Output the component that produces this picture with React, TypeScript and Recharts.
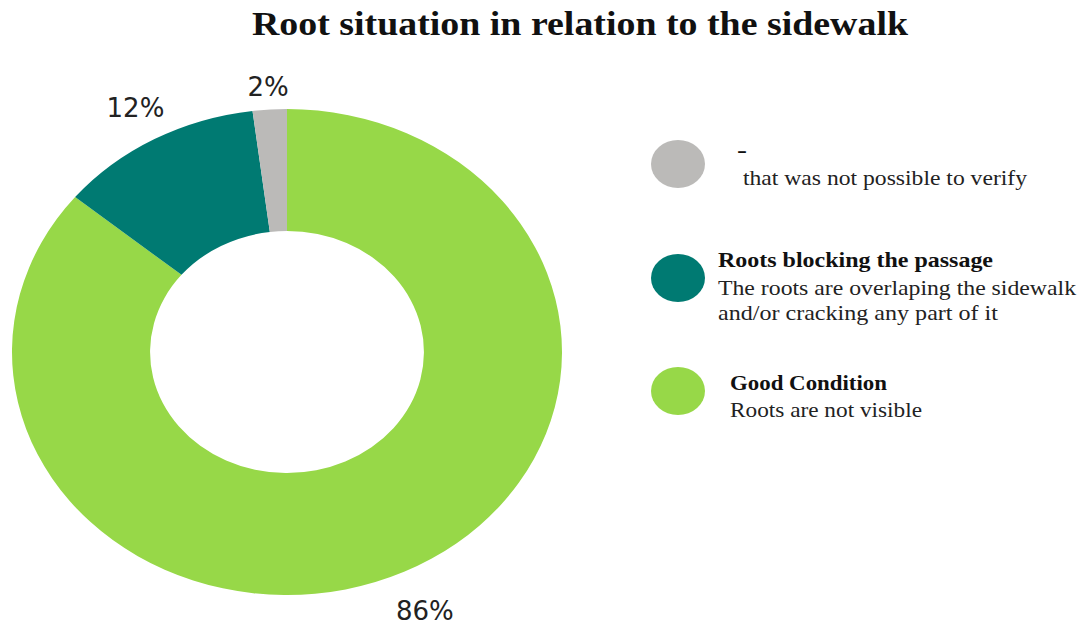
import { PieChart, Pie, Cell } from 'recharts';

// slices, clockwise from 12 o'clock
const categories = ['Good Condition', 'Roots blocking the passage', '-'];
const shares = [86, 12, 2];
const sliceColors = ['#97D848', '#007A72', '#BBBAB8'];
const notes = [
    ['Roots are not visible'],
    ['The roots are overlaping the sidewalk', 'and/or cracking any part of it'],
    ['that was not possible to verify'],
];
const title = 'Root situation in relation to the sidewalk';

const data = categories.map((name, i) => ({ name, value: shares[i] }));

// the original donut is an ellipse, so the circle gets stretched sideways
const SX = 275 / 243;
const RADIAN = Math.PI / 180;
const labelGap = [43, 35, 23];

// legend placement (grey first at the top)
const legendLayout = [
    { idx: 2, cy: 164, tx: 737, ty: 157, tw: 10, lines: [{ x: 743, y: 185, w: 284 }] },
    { idx: 1, cy: 278, tx: 718, ty: 267, tw: 275, lines: [{ x: 718, y: 295, w: 358 }, { x: 718, y: 320, w: 280 }] },
    { idx: 0, cy: 391, tx: 730, ty: 390, tw: 157, lines: [{ x: 730, y: 417, w: 192 }] },
];

function renderLabel(props) {
    const { cx, cy, midAngle, outerRadius, index, value } = props;
    const r = outerRadius + labelGap[index];
    const x = cx + r * Math.cos(-midAngle * RADIAN);
    const y = cy + r * Math.sin(-midAngle * RADIAN);
    return (
        <text
            transform={`translate(${x},${y}) scale(${1 / SX},1)`}
            x={0}
            y={0}
            textAnchor="middle"
            dominantBaseline="central"
            fontFamily="DejaVu Sans"
            fontSize={26}
            fill="#222"
        >
            {value + '%'}
        </text>
    );
}

export default function App() {
    return (
        <div style={{ position: 'absolute', left: 0, top: 0, width: 1083, height: 631, background: '#fff', overflow: 'hidden' }}>
            <div style={{ position: 'absolute', left: -13, top: 0, width: 600, height: 631, transform: `scaleX(${SX})`, transformOrigin: '300px 0' }}>
                <PieChart width={600} height={631} margin={{ top: 0, right: 0, bottom: 0, left: 0 }}>
                    <Pie
                        data={data}
                        dataKey="value"
                        cx={300}
                        cy={352}
                        innerRadius={121}
                        outerRadius={243}
                        startAngle={90}
                        endAngle={-270}
                        stroke="none"
                        label={renderLabel}
                        labelLine={false}
                        isAnimationActive={false}
                    >
                        {data.map((d, i) => (
                            <Cell key={d.name} fill={sliceColors[i]} />
                        ))}
                    </Pie>
                </PieChart>
            </div>
            <svg width={1083} height={631} style={{ position: 'absolute', left: 0, top: 0, pointerEvents: 'none' }}>
                <text x={252} y={35} fontFamily="Liberation Serif" fontWeight="bold" fontSize={34} fill="#111" textLength={656} lengthAdjust="spacingAndGlyphs">
                    {title}
                </text>
                {legendLayout.map((item) => (
                    <g key={item.idx}>
                        <ellipse cx={678} cy={item.cy} rx={27} ry={24} fill={sliceColors[item.idx]} />
                        <text x={item.tx} y={item.ty} fontFamily="Liberation Serif" fontWeight="bold" fontSize={22} fill="#111" textLength={item.tw} lengthAdjust="spacingAndGlyphs">
                            {categories[item.idx]}
                        </text>
                        {notes[item.idx].map((line, j) => (
                            <text key={j} x={item.lines[j].x} y={item.lines[j].y} fontFamily="Liberation Serif" fontSize={22} fill="#222" textLength={item.lines[j].w} lengthAdjust="spacingAndGlyphs">
                                {line}
                            </text>
                        ))}
                    </g>
                ))}
            </svg>
        </div>
    );
}
